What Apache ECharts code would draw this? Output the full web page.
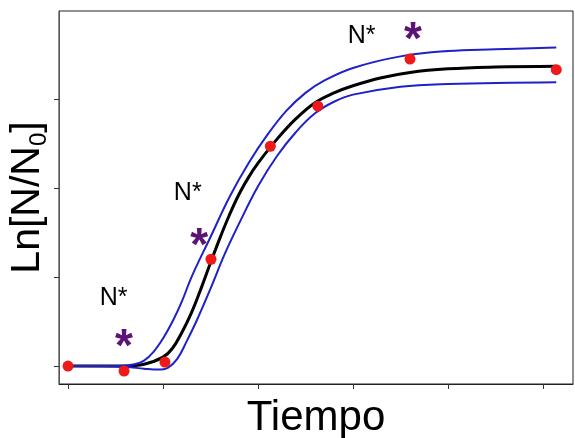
<!DOCTYPE html>
<html>
<head>
<meta charset="utf-8">
<script src="https://cdn.jsdelivr.net/npm/echarts@6/dist/echarts.min.js"></script>
<style>
  html, body { margin: 0; padding: 0; background: #fff; }
  #chart { width: 575px; height: 438px; }
</style>
</head>
<body>
<div id="chart"></div>
<script>
// Observed growth: ln(N/N0) measured over time
var obsPoints = [
  [0, 0], [0.59, -0.056], [1.02, 0.045], [1.505, 1.20],
  [2.13, 2.47], [2.63, 2.92], [3.6, 3.45], [5.14, 3.33]
];

// Fitted growth curve
var fitCurve = [
  [0, 0], [0.6, 0], [0.8, 0.02], [1.0, 0.1], [1.1, 0.2], [1.2, 0.38],
  [1.3, 0.6], [1.4, 0.87], [1.5, 1.16], [1.6, 1.44], [1.7, 1.7],
  [1.8, 1.93], [1.9, 2.12], [2.0, 2.28], [2.2, 2.55], [2.4, 2.78],
  [2.6, 2.96], [2.8, 3.07], [3.0, 3.15], [3.3, 3.24], [3.6, 3.3],
  [4.0, 3.34], [4.5, 3.36], [5.14, 3.37]
];

// Upper confidence band
var upperBand = [
  [0, 0], [0.55, 0], [0.7, 0.02], [0.8, 0.06], [0.9, 0.16], [1.0, 0.31],
  [1.1, 0.5], [1.2, 0.73], [1.3, 1.0], [1.5, 1.45], [1.7, 1.9],
  [1.9, 2.28], [2.1, 2.6], [2.3, 2.87], [2.5, 3.07], [2.7, 3.21],
  [3.0, 3.35], [3.5, 3.48], [4.0, 3.54], [4.5, 3.56], [5.14, 3.58]
];

// Lower confidence band
var lowerBand = [
  [0, 0], [0.6, -0.01], [0.8, -0.03], [0.95, -0.04], [1.05, -0.02],
  [1.15, 0.08], [1.25, 0.28], [1.35, 0.5], [1.5, 0.87], [1.65, 1.26],
  [1.8, 1.6], [2.0, 2.02], [2.2, 2.36], [2.4, 2.63], [2.6, 2.84],
  [2.8, 2.97], [3.0, 3.05], [3.5, 3.14], [4.0, 3.17], [5.14, 3.19]
];

// Significance markers and their "N*" captions
var starPoints = [[0.59, 0.30], [1.38, 1.44], [3.63, 3.75]];
var captionPoints = [[0.48, 0.76], [1.26, 1.94], [3.09, 3.71]];

var xTicks = [0, 1, 2, 3, 4, 5];
var yTicks = [0, 1, 2, 3];

var xName = 'Tiempo';

var chart = echarts.init(document.getElementById('chart'), null, { renderer: 'canvas' });

var BLUE = '#2020c8';
var FONT = 'Liberation Sans, Arial, sans-serif';

chart.setOption({
  animation: false,
  backgroundColor: '#ffffff',
  grid: {
    left: 59, top: 11, right: 2, bottom: 54,
    containLabel: false,
    outerBoundsMode: 'none',
    show: true, borderColor: '#222', borderWidth: 1
  },
  xAxis: {
    type: 'value',
    min: -0.095, max: 5.316,
    name: xName,
    nameLocation: 'middle',
    nameGap: 13,
    nameTextStyle: { fontFamily: FONT, fontSize: 42, color: '#000', verticalAlign: 'top' },
    axisLine: { show: true, onZero: false, lineStyle: { color: '#222', width: 1 } },
    axisTick: { show: true, customValues: xTicks, length: 5, inside: false, lineStyle: { color: '#333' } },
    axisLabel: { show: false },
    splitLine: { show: false }
  },
  yAxis: {
    type: 'value',
    min: -0.202, max: 3.99,
    name: '{a|Ln[N/N}{s|0}{a|]}',
    nameLocation: 'middle',
    nameRotate: 90,
    nameGap: 8,
    nameTextStyle: {
      rich: {
        a: { fontFamily: FONT, fontSize: 41, color: '#000', lineHeight: 42 },
        s: { fontFamily: FONT, fontSize: 24, color: '#000', verticalAlign: 'top', padding: [22, 0, 0, 0] }
      }
    },
    axisLine: { show: true, onZero: false, lineStyle: { color: '#555', width: 1 } },
    axisTick: { show: true, customValues: yTicks, length: 5, inside: false, lineStyle: { color: '#333' } },
    axisLabel: { show: false },
    splitLine: { show: false }
  },
  series: [
    {
      type: 'line', data: fitCurve, smooth: 0.4, showSymbol: false,
      lineStyle: { color: '#000', width: 3 }, z: 2
    },
    {
      type: 'line', data: upperBand, smooth: 0.4, showSymbol: false,
      lineStyle: { color: BLUE, width: 2 }, z: 3
    },
    {
      type: 'line', data: lowerBand, smooth: 0.4, showSymbol: false,
      lineStyle: { color: BLUE, width: 2 }, z: 3
    },
    {
      type: 'scatter', data: obsPoints, symbol: 'circle', symbolSize: 11,
      itemStyle: { color: '#ee1a1a', opacity: 1 }, z: 5
    },
    {
      type: 'scatter', data: starPoints, symbolSize: 1,
      itemStyle: { color: 'rgba(0,0,0,0)' }, z: 6,
      labelLayout: { hideOverlap: false },
      label: {
        show: true, position: [0.5, 9.5], align: 'center', verticalAlign: 'middle',
        formatter: '*', opacity: 1,
        fontFamily: FONT, fontWeight: 'bold', fontSize: 46, color: '#5c1276',
        textBorderWidth: 0
      }
    },
    {
      type: 'scatter', data: captionPoints, symbolSize: 1,
      itemStyle: { color: 'rgba(0,0,0,0)' }, z: 6,
      labelLayout: { hideOverlap: false },
      label: {
        show: true, position: 'inside', formatter: 'N*', opacity: 1,
        fontFamily: FONT, fontSize: 25, color: '#000', textBorderWidth: 0
      }
    }
  ]
});
</script>
</body>
</html>
